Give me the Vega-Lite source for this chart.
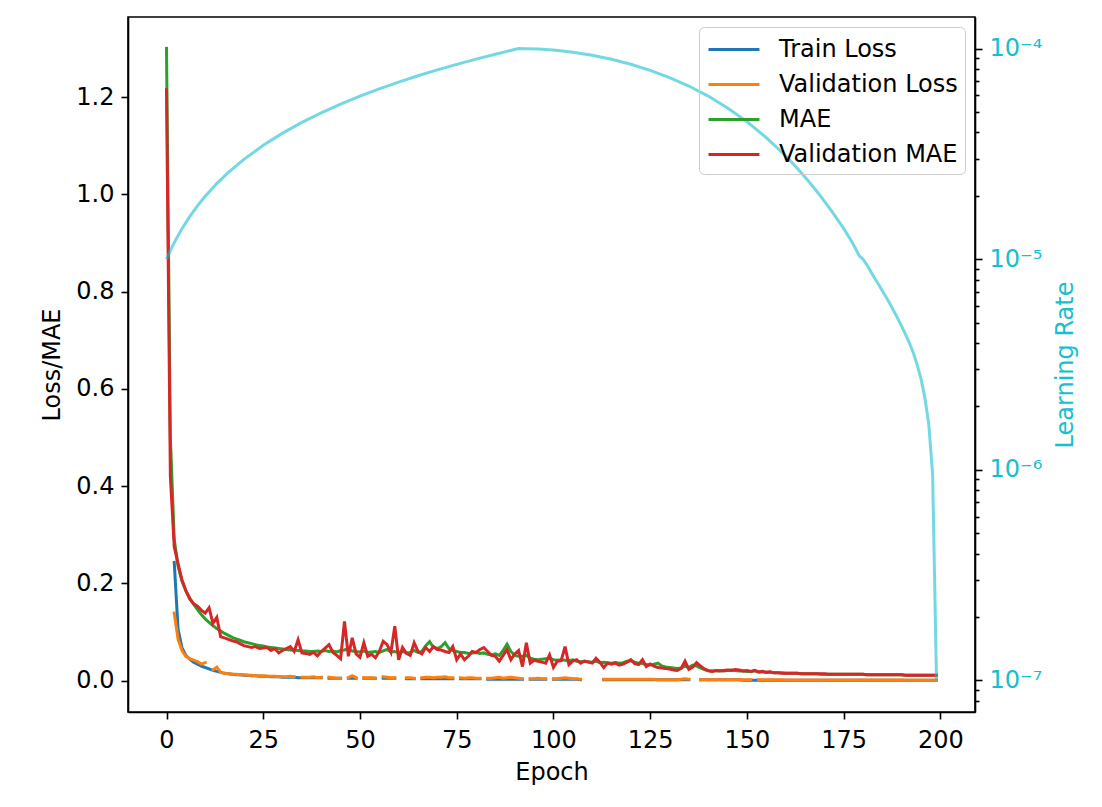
{
"$schema": "https://vega.github.io/schema/vega-lite/v6.json",
"width": 847, "height": 695,
"autosize": {"type": "none"},
"padding": {"left": 128, "top": 17, "right": 127, "bottom": 95},
"background": "white",
"config": {
  "font": "DejaVu Sans",
  "view": {"stroke": "black", "strokeWidth": 1.6},
  "axis": {"grid": false, "domainColor": "black", "domainWidth": 1.6, "tickColor": "black", "tickWidth": 1.6, "tickSize": 7, "labelFontSize": 24, "labelColor": "black", "titleFontSize": 24, "titleFontWeight": "normal", "titleColor": "black", "labelPadding": 7},
  "legend": {"orient": "none", "legendX": 571, "legendY": 10, "symbolType": "M-0.93,0H2.71", "symbolSize": 784, "symbolStrokeWidth": 3, "labelFontSize": 24, "labelColor": "black", "labelLimit": 400, "rowPadding": 7, "padding": 7, "strokeColor": "#cccccc", "cornerRadius": 5, "labelOffset": 42, "title": null}
},
"datasets": {
"hist": [
{"epoch":0,"train":null,"val":null,"mae":1.30,"vmae":1.215},
{"epoch":1,"train":null,"val":null,"mae":0.50,"vmae":0.42},
{"epoch":2,"train":0.243,"val":0.139,"mae":0.29,"vmae":0.275},
{"epoch":3,"train":0.105,"val":0.085,"mae":0.235,"vmae":0.24},
{"epoch":4,"train":0.068,"val":0.062,"mae":0.205,"vmae":0.207},
{"epoch":5,"train":0.052,"val":0.050,"mae":0.185,"vmae":0.185},
{"epoch":6,"train":0.044,"val":0.045,"mae":0.170,"vmae":0.168},
{"epoch":7,"train":0.038,"val":0.042,"mae":0.157,"vmae":0.158},
{"epoch":8,"train":0.034,"val":0.039,"mae":0.146,"vmae":0.153},
{"epoch":9,"train":0.030,"val":0.034,"mae":0.136,"vmae":0.145},
{"epoch":10,"train":0.027,"val":0.037,"mae":0.127,"vmae":0.139},
{"epoch":11,"train":0.024,"val":null,"mae":0.120,"vmae":0.150},
{"epoch":12,"train":0.021,"val":0.022,"mae":0.113,"vmae":0.118},
{"epoch":13,"train":0.019,"val":0.028,"mae":0.107,"vmae":0.130},
{"epoch":14,"train":0.017,"val":0.017,"mae":0.102,"vmae":0.090},
{"epoch":15,"train":0.015,"val":0.015,"mae":0.097,"vmae":0.088},
{"epoch":16,"train":0.014,"val":0.014,"mae":0.093,"vmae":0.085},
{"epoch":17,"train":0.013,"val":0.013,"mae":0.089,"vmae":0.082},
{"epoch":18,"train":0.012,"val":0.013,"mae":0.086,"vmae":0.080},
{"epoch":19,"train":0.012,"val":0.012,"mae":0.083,"vmae":0.076},
{"epoch":20,"train":0.011,"val":0.012,"mae":0.080,"vmae":0.072},
{"epoch":21,"train":0.011,"val":0.011,"mae":0.078,"vmae":0.070},
{"epoch":22,"train":0.010,"val":0.011,"mae":0.076,"vmae":0.068},
{"epoch":23,"train":0.010,"val":0.010,"mae":0.074,"vmae":0.070},
{"epoch":24,"train":0.009,"val":0.010,"mae":0.072,"vmae":0.066},
{"epoch":25,"train":0.009,"val":0.010,"mae":0.071,"vmae":0.067},
{"epoch":26,"train":0.009,"val":0.009,"mae":0.069,"vmae":0.068},
{"epoch":27,"train":0.008,"val":0.009,"mae":0.068,"vmae":0.062},
{"epoch":28,"train":0.008,"val":0.009,"mae":0.067,"vmae":0.066},
{"epoch":29,"train":0.008,"val":0.008,"mae":0.066,"vmae":0.057},
{"epoch":30,"train":0.007,"val":0.008,"mae":0.065,"vmae":0.062},
{"epoch":31,"train":0.007,"val":0.008,"mae":0.064,"vmae":0.066},
{"epoch":32,"train":0.007,"val":0.009,"mae":0.063,"vmae":0.070},
{"epoch":33,"train":0.007,"val":0.008,"mae":0.063,"vmae":0.060},
{"epoch":34,"train":0.006,"val":null,"mae":0.062,"vmae":0.084},
{"epoch":35,"train":0.006,"val":0.007,"mae":0.061,"vmae":0.057},
{"epoch":36,"train":0.006,"val":0.007,"mae":0.061,"vmae":0.056},
{"epoch":37,"train":0.006,"val":0.007,"mae":0.060,"vmae":0.054},
{"epoch":38,"train":0.006,"val":0.008,"mae":0.060,"vmae":0.058},
{"epoch":39,"train":0.006,"val":0.006,"mae":0.061,"vmae":0.051},
{"epoch":40,"train":0.006,"val":0.007,"mae":0.060,"vmae":0.060},
{"epoch":41,"train":null,"val":null,"mae":0.062,"vmae":0.067},
{"epoch":42,"train":0.005,"val":0.007,"mae":0.060,"vmae":0.074},
{"epoch":43,"train":0.005,"val":0.006,"mae":0.061,"vmae":0.058},
{"epoch":44,"train":0.005,"val":0.005,"mae":0.059,"vmae":0.052},
{"epoch":45,"train":0.005,"val":0.005,"mae":0.062,"vmae":0.045},
{"epoch":46,"train":null,"val":null,"mae":0.063,"vmae":0.122},
{"epoch":47,"train":0.005,"val":0.006,"mae":0.066,"vmae":0.050},
{"epoch":48,"train":0.005,"val":0.010,"mae":0.061,"vmae":0.088},
{"epoch":49,"train":0.005,"val":0.006,"mae":0.060,"vmae":0.055},
{"epoch":50,"train":null,"val":null,"mae":0.059,"vmae":0.048},
{"epoch":51,"train":0.005,"val":0.006,"mae":0.061,"vmae":0.078},
{"epoch":52,"train":0.005,"val":0.006,"mae":0.058,"vmae":0.050},
{"epoch":53,"train":0.005,"val":0.006,"mae":0.059,"vmae":0.054},
{"epoch":54,"train":0.005,"val":0.005,"mae":0.060,"vmae":0.047},
{"epoch":55,"train":null,"val":null,"mae":0.058,"vmae":0.060},
{"epoch":56,"train":0.005,"val":0.008,"mae":0.061,"vmae":0.081},
{"epoch":57,"train":0.005,"val":0.007,"mae":0.064,"vmae":0.074},
{"epoch":58,"train":0.005,"val":0.006,"mae":0.059,"vmae":0.058},
{"epoch":59,"train":0.005,"val":0.006,"mae":0.060,"vmae":0.112},
{"epoch":60,"train":null,"val":null,"mae":0.058,"vmae":0.043},
{"epoch":61,"train":null,"val":null,"mae":0.060,"vmae":0.068},
{"epoch":62,"train":0.004,"val":0.006,"mae":0.057,"vmae":0.056},
{"epoch":63,"train":0.004,"val":0.006,"mae":0.058,"vmae":0.052},
{"epoch":64,"train":0.004,"val":0.005,"mae":0.062,"vmae":0.078},
{"epoch":65,"train":null,"val":null,"mae":0.058,"vmae":0.060},
{"epoch":66,"train":0.004,"val":0.006,"mae":0.060,"vmae":0.055},
{"epoch":67,"train":0.004,"val":0.007,"mae":0.072,"vmae":0.068},
{"epoch":68,"train":0.004,"val":0.007,"mae":0.080,"vmae":0.060},
{"epoch":69,"train":0.004,"val":0.006,"mae":0.068,"vmae":0.070},
{"epoch":70,"train":0.004,"val":0.007,"mae":0.066,"vmae":0.064},
{"epoch":71,"train":0.004,"val":0.007,"mae":0.070,"vmae":0.063},
{"epoch":72,"train":0.004,"val":0.008,"mae":0.078,"vmae":0.060},
{"epoch":73,"train":0.004,"val":0.006,"mae":0.066,"vmae":0.058},
{"epoch":74,"train":0.004,"val":0.006,"mae":0.062,"vmae":0.070},
{"epoch":75,"train":null,"val":null,"mae":0.060,"vmae":0.043},
{"epoch":76,"train":0.004,"val":0.006,"mae":0.058,"vmae":0.055},
{"epoch":77,"train":0.004,"val":0.005,"mae":0.058,"vmae":0.043},
{"epoch":78,"train":0.004,"val":0.006,"mae":0.056,"vmae":0.050},
{"epoch":79,"train":0.004,"val":0.006,"mae":0.057,"vmae":0.060},
{"epoch":80,"train":0.004,"val":0.005,"mae":0.058,"vmae":0.058},
{"epoch":81,"train":0.004,"val":0.005,"mae":0.056,"vmae":0.064},
{"epoch":82,"train":null,"val":null,"mae":0.057,"vmae":0.068},
{"epoch":83,"train":0.003,"val":0.005,"mae":0.054,"vmae":0.060},
{"epoch":84,"train":0.003,"val":0.005,"mae":0.053,"vmae":0.052},
{"epoch":85,"train":0.003,"val":0.006,"mae":0.055,"vmae":0.050},
{"epoch":86,"train":0.003,"val":0.007,"mae":0.052,"vmae":0.040},
{"epoch":87,"train":0.003,"val":0.005,"mae":0.062,"vmae":0.052},
{"epoch":88,"train":0.003,"val":0.006,"mae":0.075,"vmae":0.064},
{"epoch":89,"train":0.003,"val":0.007,"mae":0.060,"vmae":0.043},
{"epoch":90,"train":0.003,"val":0.006,"mae":0.052,"vmae":0.055},
{"epoch":91,"train":0.003,"val":0.005,"mae":0.050,"vmae":0.062},
{"epoch":92,"train":0.003,"val":0.004,"mae":0.050,"vmae":0.029},
{"epoch":93,"train":null,"val":null,"mae":0.052,"vmae":0.078},
{"epoch":94,"train":0.003,"val":0.004,"mae":0.046,"vmae":0.036},
{"epoch":95,"train":0.003,"val":0.004,"mae":0.044,"vmae":0.042},
{"epoch":96,"train":0.003,"val":0.005,"mae":0.043,"vmae":0.040},
{"epoch":97,"train":0.003,"val":0.004,"mae":0.044,"vmae":0.038},
{"epoch":98,"train":0.003,"val":0.004,"mae":0.045,"vmae":0.036},
{"epoch":99,"train":null,"val":null,"mae":0.046,"vmae":0.053},
{"epoch":100,"train":0.003,"val":0.004,"mae":0.043,"vmae":0.027},
{"epoch":101,"train":0.003,"val":0.004,"mae":0.042,"vmae":0.040},
{"epoch":102,"train":0.003,"val":0.005,"mae":0.043,"vmae":0.041},
{"epoch":103,"train":0.003,"val":0.006,"mae":0.042,"vmae":0.070},
{"epoch":104,"train":0.003,"val":0.005,"mae":0.041,"vmae":0.033},
{"epoch":105,"train":0.003,"val":0.004,"mae":0.043,"vmae":0.040},
{"epoch":106,"train":0.003,"val":0.004,"mae":0.040,"vmae":0.043},
{"epoch":107,"train":0.002,"val":0.003,"mae":0.039,"vmae":0.036},
{"epoch":108,"train":null,"val":null,"mae":0.040,"vmae":0.040},
{"epoch":109,"train":null,"val":null,"mae":0.039,"vmae":0.038},
{"epoch":110,"train":null,"val":null,"mae":0.038,"vmae":0.036},
{"epoch":111,"train":null,"val":null,"mae":0.040,"vmae":0.046},
{"epoch":112,"train":null,"val":null,"mae":0.037,"vmae":0.038},
{"epoch":113,"train":0.002,"val":0.003,"mae":0.038,"vmae":0.027},
{"epoch":114,"train":0.002,"val":0.003,"mae":0.037,"vmae":0.036},
{"epoch":115,"train":0.002,"val":0.003,"mae":0.036,"vmae":0.034},
{"epoch":116,"train":0.002,"val":0.003,"mae":0.037,"vmae":0.036},
{"epoch":117,"train":0.002,"val":0.003,"mae":0.036,"vmae":0.032},
{"epoch":118,"train":0.002,"val":0.003,"mae":0.037,"vmae":0.034},
{"epoch":119,"train":0.002,"val":0.003,"mae":0.040,"vmae":0.038},
{"epoch":120,"train":0.002,"val":0.003,"mae":0.041,"vmae":0.043},
{"epoch":121,"train":0.002,"val":0.003,"mae":0.038,"vmae":0.035},
{"epoch":122,"train":0.002,"val":0.003,"mae":0.036,"vmae":0.033},
{"epoch":123,"train":0.002,"val":0.003,"mae":0.035,"vmae":0.043},
{"epoch":124,"train":0.002,"val":0.003,"mae":0.033,"vmae":0.029},
{"epoch":125,"train":0.002,"val":0.003,"mae":0.032,"vmae":0.034},
{"epoch":126,"train":0.002,"val":0.003,"mae":0.034,"vmae":0.030},
{"epoch":127,"train":0.002,"val":0.002,"mae":0.036,"vmae":0.027},
{"epoch":128,"train":0.002,"val":0.002,"mae":0.030,"vmae":0.026},
{"epoch":129,"train":0.002,"val":0.002,"mae":0.028,"vmae":0.025},
{"epoch":130,"train":0.002,"val":0.002,"mae":0.027,"vmae":0.024},
{"epoch":131,"train":0.002,"val":0.002,"mae":0.026,"vmae":0.022},
{"epoch":132,"train":0.002,"val":0.002,"mae":0.025,"vmae":0.021},
{"epoch":133,"train":0.002,"val":0.003,"mae":0.026,"vmae":0.025},
{"epoch":134,"train":0.002,"val":0.004,"mae":0.030,"vmae":0.040},
{"epoch":135,"train":0.002,"val":0.003,"mae":0.027,"vmae":0.023},
{"epoch":136,"train":null,"val":null,"mae":0.032,"vmae":0.028},
{"epoch":137,"train":null,"val":null,"mae":0.030,"vmae":0.037},
{"epoch":138,"train":0.002,"val":0.002,"mae":0.026,"vmae":0.030},
{"epoch":139,"train":0.002,"val":0.002,"mae":0.023,"vmae":0.024},
{"epoch":140,"train":0.002,"val":0.002,"mae":0.021,"vmae":0.020},
{"epoch":141,"train":0.002,"val":0.002,"mae":0.020,"vmae":0.019},
{"epoch":142,"train":0.002,"val":0.002,"mae":0.020,"vmae":0.021},
{"epoch":143,"train":0.002,"val":0.002,"mae":0.021,"vmae":0.020},
{"epoch":144,"train":0.002,"val":0.002,"mae":0.020,"vmae":0.021},
{"epoch":145,"train":0.002,"val":0.002,"mae":0.021,"vmae":0.022},
{"epoch":146,"train":0.002,"val":0.002,"mae":0.022,"vmae":0.021},
{"epoch":147,"train":0.002,"val":0.002,"mae":0.021,"vmae":0.023},
{"epoch":148,"train":0.002,"val":0.002,"mae":0.020,"vmae":0.022},
{"epoch":149,"train":0.001,"val":0.002,"mae":0.020,"vmae":0.020},
{"epoch":150,"train":0.001,"val":0.002,"mae":0.019,"vmae":0.021},
{"epoch":151,"train":0.001,"val":0.002,"mae":0.019,"vmae":0.019},
{"epoch":152,"train":0.001,"val":null,"mae":0.020,"vmae":0.021},
{"epoch":153,"train":0.001,"val":0.002,"mae":0.018,"vmae":0.018},
{"epoch":154,"train":0.001,"val":0.002,"mae":0.018,"vmae":0.019},
{"epoch":155,"train":0.001,"val":0.002,"mae":0.017,"vmae":0.017},
{"epoch":156,"train":0.001,"val":0.002,"mae":0.017,"vmae":0.018},
{"epoch":157,"train":0.001,"val":0.002,"mae":0.016,"vmae":0.016},
{"epoch":158,"train":0.001,"val":0.002,"mae":0.016,"vmae":0.016},
{"epoch":159,"train":0.001,"val":0.002,"mae":0.016,"vmae":0.015},
{"epoch":160,"train":0.001,"val":0.0015,"mae":0.015,"vmae":0.015},
{"epoch":161,"train":0.001,"val":0.0015,"mae":0.015,"vmae":0.015},
{"epoch":162,"train":0.001,"val":0.0015,"mae":0.015,"vmae":0.015},
{"epoch":163,"train":0.001,"val":0.0015,"mae":0.015,"vmae":0.015},
{"epoch":164,"train":0.001,"val":0.0015,"mae":0.014,"vmae":0.014},
{"epoch":165,"train":0.001,"val":0.0015,"mae":0.014,"vmae":0.014},
{"epoch":166,"train":0.001,"val":0.0015,"mae":0.014,"vmae":0.014},
{"epoch":167,"train":0.001,"val":0.0015,"mae":0.014,"vmae":0.014},
{"epoch":168,"train":0.001,"val":0.0015,"mae":0.014,"vmae":0.014},
{"epoch":169,"train":0.001,"val":0.0015,"mae":0.013,"vmae":0.014},
{"epoch":170,"train":0.001,"val":0.0015,"mae":0.013,"vmae":0.014},
{"epoch":171,"train":0.001,"val":0.0012,"mae":0.013,"vmae":0.013},
{"epoch":172,"train":0.001,"val":0.0012,"mae":0.013,"vmae":0.013},
{"epoch":173,"train":0.001,"val":0.0012,"mae":0.013,"vmae":0.013},
{"epoch":174,"train":0.001,"val":0.0012,"mae":0.013,"vmae":0.013},
{"epoch":175,"train":0.001,"val":0.0012,"mae":0.013,"vmae":0.013},
{"epoch":176,"train":0.001,"val":0.0012,"mae":0.013,"vmae":0.013},
{"epoch":177,"train":0.001,"val":0.0012,"mae":0.013,"vmae":0.013},
{"epoch":178,"train":0.001,"val":0.0012,"mae":0.013,"vmae":0.013},
{"epoch":179,"train":0.001,"val":0.0012,"mae":0.013,"vmae":0.013},
{"epoch":180,"train":0.001,"val":0.0012,"mae":0.013,"vmae":0.013},
{"epoch":181,"train":0.001,"val":0.0012,"mae":0.012,"vmae":0.012},
{"epoch":182,"train":0.001,"val":0.0012,"mae":0.012,"vmae":0.012},
{"epoch":183,"train":0.001,"val":0.0012,"mae":0.012,"vmae":0.012},
{"epoch":184,"train":0.001,"val":0.0012,"mae":0.012,"vmae":0.012},
{"epoch":185,"train":0.001,"val":0.0012,"mae":0.012,"vmae":0.012},
{"epoch":186,"train":0.001,"val":0.0012,"mae":0.012,"vmae":0.012},
{"epoch":187,"train":0.001,"val":0.0012,"mae":0.012,"vmae":0.012},
{"epoch":188,"train":0.001,"val":0.0012,"mae":0.012,"vmae":0.012},
{"epoch":189,"train":0.001,"val":0.0012,"mae":0.012,"vmae":0.012},
{"epoch":190,"train":0.001,"val":0.0012,"mae":0.012,"vmae":0.012},
{"epoch":191,"train":0.0008,"val":0.001,"mae":0.011,"vmae":0.011},
{"epoch":192,"train":0.0008,"val":0.001,"mae":0.011,"vmae":0.011},
{"epoch":193,"train":0.0008,"val":0.001,"mae":0.011,"vmae":0.011},
{"epoch":194,"train":0.0008,"val":0.001,"mae":0.011,"vmae":0.011},
{"epoch":195,"train":0.0008,"val":0.001,"mae":0.011,"vmae":0.011},
{"epoch":196,"train":0.0008,"val":0.001,"mae":0.011,"vmae":0.011},
{"epoch":197,"train":0.0008,"val":0.001,"mae":0.011,"vmae":0.011},
{"epoch":198,"train":0.0008,"val":0.001,"mae":0.011,"vmae":0.011},
{"epoch":199,"train":0.0008,"val":0.001,"mae":0.011,"vmae":0.011}
],
"lr": [
{"epoch":0,"lr":1.0e-5},{"epoch":1,"lr":1.099e-5},{"epoch":2,"lr":1.198e-5},{"epoch":3,"lr":1.297e-5},{"epoch":4,"lr":1.396e-5},
{"epoch":6,"lr":1.593e-5},{"epoch":8,"lr":1.791e-5},{"epoch":10,"lr":1.989e-5},{"epoch":13,"lr":2.286e-5},{"epoch":16,"lr":2.582e-5},
{"epoch":20,"lr":2.978e-5},{"epoch":25,"lr":3.473e-5},{"epoch":30,"lr":3.967e-5},{"epoch":35,"lr":4.462e-5},{"epoch":40,"lr":4.956e-5},
{"epoch":45,"lr":5.451e-5},{"epoch":50,"lr":5.945e-5},{"epoch":55,"lr":6.44e-5},{"epoch":60,"lr":6.934e-5},{"epoch":65,"lr":7.429e-5},
{"epoch":70,"lr":7.923e-5},{"epoch":75,"lr":8.418e-5},{"epoch":80,"lr":8.912e-5},{"epoch":85,"lr":9.407e-5},{"epoch":88,"lr":9.703e-5},
{"epoch":91,"lr":1.0e-4},{"epoch":93,"lr":9.992e-5},{"epoch":96,"lr":9.951e-5},{"epoch":100,"lr":9.841e-5},{"epoch":105,"lr":9.618e-5},
{"epoch":110,"lr":9.304e-5},{"epoch":115,"lr":8.905e-5},{"epoch":120,"lr":8.43e-5},{"epoch":125,"lr":7.887e-5},{"epoch":130,"lr":7.286e-5},
{"epoch":135,"lr":6.642e-5},{"epoch":140,"lr":5.95e-5},{"epoch":145,"lr":5.22e-5},{"epoch":150,"lr":4.5e-5},{"epoch":155,"lr":3.78e-5},
{"epoch":160,"lr":3.1e-5},{"epoch":163,"lr":2.7e-5},{"epoch":166,"lr":2.34e-5},{"epoch":169,"lr":2.0e-5},{"epoch":172,"lr":1.68e-5},
{"epoch":175,"lr":1.4e-5},{"epoch":177,"lr":1.22e-5},{"epoch":178,"lr":1.13e-5},{"epoch":179,"lr":1.04e-5},{"epoch":180,"lr":1.0e-5},
{"epoch":181,"lr":9.4e-6},{"epoch":182,"lr":8.75e-6},{"epoch":183,"lr":8.15e-6},{"epoch":184,"lr":7.6e-6},{"epoch":185,"lr":7.08e-6},
{"epoch":186,"lr":6.6e-6},{"epoch":187,"lr":6.12e-6},{"epoch":188,"lr":5.66e-6},{"epoch":189,"lr":5.22e-6},{"epoch":190,"lr":4.8e-6},
{"epoch":191,"lr":4.4e-6},{"epoch":192,"lr":4.0e-6},{"epoch":193,"lr":3.6e-6},{"epoch":194,"lr":3.15e-6},{"epoch":195,"lr":2.7e-6},
{"epoch":196,"lr":2.2e-6},{"epoch":197,"lr":1.65e-6},{"epoch":198,"lr":9.5e-7},{"epoch":199,"lr":1.0e-7}
]
},
"encoding": {
  "x": {"field": "epoch", "type": "quantitative", "scale": {"domain": [-9.95, 208.95], "nice": false, "zero": false},
        "axis": {"values": [0,25,50,75,100,125,150,175,200], "title": "Epoch", "labelPadding": 9, "titlePadding": 8}}
},
"layer": [
  {
    "data": {"name": "hist"},
    "layer": [
      {"mark": {"type": "line", "strokeWidth": 3, "strokeCap": "square", "invalid": "break-paths-show-domains"},
       "encoding": {
         "y": {"field": "train", "type": "quantitative", "scale": {"domain": [-0.0645, 1.3645], "nice": false, "zero": false},
               "axis": {"values": [0,0.2,0.4,0.6,0.8,1.0,1.2], "format": ".1f", "title": "Loss/MAE", "titlePadding": 11}},
         "color": {"datum": "Train Loss", "type": "nominal",
                   "scale": {"domain": ["Train Loss", "Validation Loss", "MAE", "Validation MAE"], "range": ["#1f77b4", "#ff7f0e", "#2ca02c", "#d62728"]}}
       }},
      {"mark": {"type": "line", "strokeWidth": 3, "strokeCap": "square", "invalid": "break-paths-show-domains"},
       "encoding": {"y": {"field": "val", "type": "quantitative", "title": "Loss/MAE"}, "color": {"datum": "Validation Loss", "type": "nominal"}}},
      {"mark": {"type": "line", "strokeWidth": 3, "strokeCap": "square", "invalid": "break-paths-show-domains"},
       "encoding": {"y": {"field": "mae", "type": "quantitative", "title": "Loss/MAE"}, "color": {"datum": "MAE", "type": "nominal"}}},
      {"mark": {"type": "line", "strokeWidth": 3, "strokeCap": "square", "invalid": "break-paths-show-domains"},
       "encoding": {"y": {"field": "vmae", "type": "quantitative", "title": "Loss/MAE"}, "color": {"datum": "Validation MAE", "type": "nominal"}}}
    ]
  },
  {
    "data": {"name": "lr"},
    "mark": {"type": "line", "color": "#17becf", "opacity": 0.6, "strokeWidth": 3},
    "encoding": {
      "y": {"field": "lr", "type": "quantitative",
            "scale": {"type": "log", "domain": [7.079e-8, 1.4125e-4], "nice": false, "zero": false},
            "axis": {"orient": "right", "values": [1e-7, 1e-6, 1e-5, 1e-4],
                     "labelExpr": "datum.value < 5e-7 ? '10⁻⁷' : datum.value < 5e-6 ? '10⁻⁶' : datum.value < 5e-5 ? '10⁻⁵' : '10⁻⁴'",
                     "labelColor": "#17becf", "title": "Learning Rate", "titleColor": "#17becf", "titleAngle": 270, "titlePadding": 36}}
    }
  },
  {
    "data": {"name": "lr"},
    "mark": {"type": "line", "opacity": 0},
    "encoding": {
      "y": {"field": "lr", "type": "quantitative",
            "scale": {"type": "log", "domain": [7.079e-8, 1.4125e-4], "nice": false, "zero": false},
            "axis": {"orient": "right", "domain": false, "labels": false, "title": null, "tickSize": 4,
                     "values": [8e-8, 9e-8, 2e-7, 3e-7, 4e-7, 5e-7, 6e-7, 7e-7, 8e-7, 9e-7, 2e-6, 3e-6, 4e-6, 5e-6, 6e-6, 7e-6, 8e-6, 9e-6, 2e-5, 3e-5, 4e-5, 5e-5, 6e-5, 7e-5, 8e-5, 9e-5]}}
    }
  }
],
"resolve": {"scale": {"y": "independent"}}
}
